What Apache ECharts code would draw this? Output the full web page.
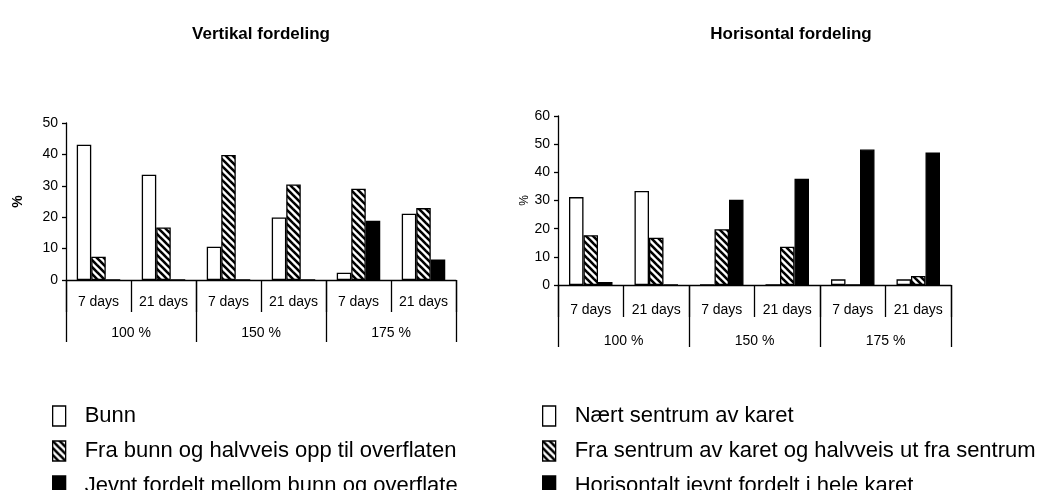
<!DOCTYPE html>
<html>
<head>
<meta charset="utf-8">
<script src="https://cdn.jsdelivr.net/npm/echarts@6/dist/echarts.min.js"></script>
<style>
html,body{margin:0;padding:0;background:#fff;}
#main{width:1043px;height:490px;}
</style>
</head>
<body>
<div id="main"></div>
<script>
var days = ['7 days','21 days','7 days','21 days','7 days','21 days'];
var groups = ['100 %','150 %','175 %'];

var vertNames = ['Bunn','Fra bunn og halvveis opp til overflaten','Jevnt fordelt mellom bunn og overflate'];
var vertBunn = [43.1, 33.5, 10.6, 19.9, 2.3, 21.1];
var vertHalv = [7.4, 16.7, 39.8, 30.4, 29.1, 22.9];
var vertJevnt = [0, 0, 0, 0, 18.9, 6.5];

var horNames = ['Nært sentrum av karet','Fra sentrum av karet og halvveis ut fra sentrum','Horisontalt jevnt fordelt i hele karet'];
var horSentrum = [31.2, 33.4, 0, 0, 2.0, 2.0];
var horHalv = [17.7, 16.8, 19.8, 13.6, 0, 3.2];
var horJevnt = [1.1, 0, 30.3, 37.7, 48.1, 47.0];

// stripes "\" for the middle series
function makeHatch(){
	var s = 7;
	var c = document.createElement('canvas');
	c.width = s; c.height = s;
	var ctx = c.getContext('2d');
	ctx.fillStyle = '#fff';
	ctx.fillRect(0,0,s,s);
	ctx.strokeStyle = '#000';
	ctx.lineWidth = 2.6;
	for(var k = -1; k <= 1; k++){
		ctx.beginPath();
		ctx.moveTo(-2, -2 + k*s);
		ctx.lineTo(s+2, s+2 + k*s);
		ctx.stroke();
	}
	return {image: c, repeat: 'repeat'};
}
var hatch = makeHatch();

var fontName = '"Liberation Sans", Arial, sans-serif';
var black = '#000';

function innerAxis(gi, margin){
	return {
		type: 'category', gridIndex: gi, data: days, position: 'bottom',
		axisLine: {lineStyle: {color: black, width: 1.3}},
		axisTick: {show: true, interval: 0, length: 32, lineStyle: {color: black, width: 1.3}},
		axisLabel: {interval: 0, margin: margin, color: black, fontSize: 14, fontFamily: fontName}
	};
}
function outerAxis(gi, margin){
	return {
		type: 'category', gridIndex: gi, data: groups, position: 'bottom',
		axisLine: {show: false},
		axisTick: {show: true, interval: 0, length: 62, lineStyle: {color: black, width: 1.3}},
		axisLabel: {interval: 0, margin: margin, color: black, fontSize: 14, fontFamily: fontName}
	};
}
function valAxis(gi, max, nameStyle, gap){
	return {
		type: 'value', gridIndex: gi, min: 0, max: max, interval: 10,
		name: '%', nameLocation: 'middle', nameRotate: 90, nameGap: gap,
		nameTextStyle: nameStyle,
		splitLine: {show: false},
		axisLine: {show: true, lineStyle: {color: black, width: 1.3}},
		axisTick: {show: true, length: 4, lineStyle: {color: black, width: 1.3}},
		axisLabel: {color: black, fontSize: 14, fontFamily: fontName, margin: 8}
	};
}
function bar(name, data, gi, color){
	return {
		name: name, type: 'bar', data: data,
		xAxisIndex: gi*2, yAxisIndex: gi,
		barWidth: 14.5, barGap: '0%',
		itemStyle: {color: color, borderColor: black, borderWidth: 1.3},
		emphasis: {disabled: true}
	};
}
function legend(names, left){
	return {
		data: names, orient: 'vertical', left: left, top: 400, height: 300,
		icon: 'rect', itemWidth: 13, itemHeight: 20, itemGap: 13,
		itemStyle: {borderColor: black, borderWidth: 1.3},
		textStyle: {color: black, fontSize: 22, fontFamily: fontName, padding: [0,0,0,14]}
	};
}

var myChart = echarts.init(document.getElementById('main'));
var option = {
	animation: false,
	backgroundColor: '#fff',
	title: [
		{text: 'Vertikal fordeling', left: 256, top: 21, textAlign: 'center',
			textStyle: {fontSize: 17, fontWeight: 'bold', color: black, fontFamily: fontName}},
		{text: 'Horisontal fordeling', left: 786, top: 21, textAlign: 'center',
			textStyle: {fontSize: 17, fontWeight: 'bold', color: black, fontFamily: fontName}}
	],
	grid: [
		{left: 66, top: 123, width: 390, height: 157},
		{left: 558, top: 116, width: 393, height: 169}
	],
	xAxis: [innerAxis(0, 15), outerAxis(0, 46), innerAxis(1, 18), outerAxis(1, 49)],
	yAxis: [
		valAxis(0, 50, {color: black, fontSize: 14, fontWeight: 'bold', fontFamily: fontName}, 41),
		valAxis(1, 60, {color: black, fontSize: 12, fontFamily: fontName}, 26)
	],
	legend: [legend(vertNames, 47), legend(horNames, 537)],
	series: [
		bar(vertNames[0], vertBunn, 0, '#fff'),
		bar(vertNames[1], vertHalv, 0, hatch),
		bar(vertNames[2], vertJevnt, 0, black),
		bar(horNames[0], horSentrum, 1, '#fff'),
		bar(horNames[1], horHalv, 1, hatch),
		bar(horNames[2], horJevnt, 1, black)
	]
};
myChart.setOption(option);
</script>
</body>
</html>
